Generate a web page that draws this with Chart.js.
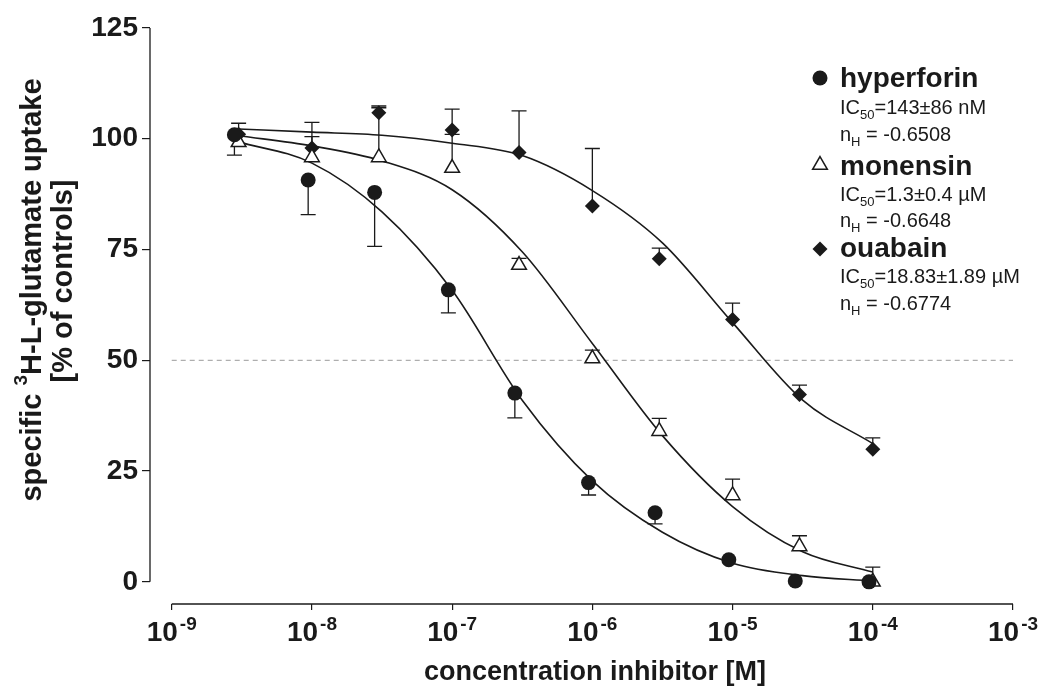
<!DOCTYPE html>
<html>
<head>
<meta charset="utf-8">
<script src="https://cdn.jsdelivr.net/npm/chart.js@4.4.1/dist/chart.umd.min.js"></script>
<style>
  html, body { margin: 0; padding: 0; background: #fff; }
  #wrap { position: relative; width: 1044px; height: 687px; }
</style>
</head>
<body>
<div id="wrap"><canvas id="chart"></canvas></div>
<script>
// concentrations in M
const concentrations = [3e-9, 1e-8, 3e-8, 1e-7, 3e-7, 1e-6, 3e-6, 1e-5, 3e-5, 1e-4];
// hyperforin points sit a hair left of the ticks in the original
const hyperforinConc = [2.8e-9, 9.4e-9, 2.8e-8, 9.4e-8, 2.8e-7, 9.4e-7, 2.8e-6, 9.4e-6, 2.8e-5, 9.4e-5];

const hyperforin = [100.9, 90.7, 87.9, 65.9, 42.6, 22.4, 15.6, 5.0, 0.2, 0.0];
const hyperforinErrUp = [0, 0, 0, 0, 0, 0, 0, 0, 0, 0];
const hyperforinErrDown = [4.6, 7.8, 12.2, 5.2, 5.6, 2.8, 2.5, 0, 0, 0];

const monensin = [99.2, 95.8, 95.8, 93.4, 71.5, 50.4, 34.0, 19.5, 8.0, 0.0];
const monensinErrUp = [0, 4.7, 11.2, 7.6, 1.5, 1.9, 2.9, 3.7, 2.4, 3.3];
const monensinErrDown = [0, 0, 0, 0, 0, 0, 0, 0, 0, 0];

const ouabain = [101.0, 97.9, 105.9, 102.0, 96.9, 84.8, 72.9, 59.2, 42.3, 29.9];
const ouabainErrUp = [2.5, 5.8, 1.5, 4.7, 9.4, 13.0, 2.4, 3.7, 2.1, 2.6];
const ouabainErrDown = [0, 0, 0, 0, 0, 0, 0, 0, 0, 0];

// fitted curves
const curveConc = [3e-9, 1e-8, 3.16e-8, 1e-7, 3.16e-7, 1e-6, 3.16e-6, 1e-5, 3.16e-5, 1e-4];
const hyperforinFit = [99.3, 94.5, 83.5, 65.8, 41.0, 22.8, 11.2, 4.2, 1.4, 0.2];
const monensinFit = [100.7, 98.4, 95.0, 88.5, 74.5, 53.8, 33.0, 17.0, 6.8, 2.2];
const ouabainFit = [102.2, 101.5, 100.8, 99.0, 96.2, 88.3, 76.5, 58.5, 41.0, 31.2];

const xTickValues = [1e-9, 1e-8, 1e-7, 1e-6, 1e-5, 1e-4, 1e-3];
const xTickExponents = ['-9', '-8', '-7', '-6', '-5', '-4', '-3'];
const yTickValues = [0, 25, 50, 75, 100, 125];

const seriesNames = ['hyperforin', 'monensin', 'ouabain'];
const ic50Labels = ['143\u00b186 nM', '1.3\u00b10.4 \u00b5M', '18.83\u00b11.89 \u00b5M'];
const hillLabels = ['-0.6508', '-0.6648', '-0.6774'];

const FONT = '"Liberation Sans", Arial, Helvetica, sans-serif';
const INK = '#1a1a1a';

const toXY = (xs, ys) => xs.map((x, i) => ({ x: x, y: ys[i] }));

const errorSets = [
  { conc: concentrations, values: ouabain, up: ouabainErrUp, down: ouabainErrDown },
  { conc: concentrations, values: monensin, up: monensinErrUp, down: monensinErrDown },
  { conc: hyperforinConc, values: hyperforin, up: hyperforinErrUp, down: hyperforinErrDown },
];

function drawMarker(ctx, style, x, y) {
  ctx.save();
  ctx.fillStyle = INK;
  ctx.strokeStyle = INK;
  ctx.lineWidth = 1.5;
  ctx.beginPath();
  if (style === 'circle') {
    ctx.arc(x, y, 7.5, 0, Math.PI * 2);
    ctx.fill();
  } else if (style === 'triangle') {
    const r = 8.5;
    ctx.moveTo(x, y - r);
    ctx.lineTo(x + r * 0.866, y + r * 0.5);
    ctx.lineTo(x - r * 0.866, y + r * 0.5);
    ctx.closePath();
    ctx.fillStyle = '#fff';
    ctx.fill();
    ctx.stroke();
  } else {
    const r = 7.5;
    ctx.moveTo(x, y - r);
    ctx.lineTo(x + r, y);
    ctx.lineTo(x, y + r);
    ctx.lineTo(x - r, y);
    ctx.closePath();
    ctx.fill();
  }
  ctx.restore();
}

const decor = {
  id: 'decor',
  beforeDatasetsDraw(chart) {
    const ctx = chart.ctx, xs = chart.scales.x, ys = chart.scales.y;
    ctx.save();
    // 50 % reference line
    ctx.strokeStyle = '#9a9a9a';
    ctx.lineWidth = 1;
    ctx.setLineDash([5, 4]);
    ctx.beginPath();
    ctx.moveTo(xs.getPixelForValue(1e-9), ys.getPixelForValue(50));
    ctx.lineTo(xs.getPixelForValue(1e-3), ys.getPixelForValue(50));
    ctx.stroke();
    ctx.setLineDash([]);
    // error bars
    ctx.strokeStyle = INK;
    ctx.lineWidth = 1.3;
    errorSets.forEach(set => {
      set.values.forEach((v, i) => {
        const px = xs.getPixelForValue(set.conc[i]);
        [[set.up[i], 1], [set.down[i], -1]].forEach(([e, dir]) => {
          if (!e) return;
          const y0 = ys.getPixelForValue(v);
          const y1 = ys.getPixelForValue(v + dir * e);
          ctx.beginPath();
          ctx.moveTo(px, y0);
          ctx.lineTo(px, y1);
          ctx.moveTo(px - 7.5, y1);
          ctx.lineTo(px + 7.5, y1);
          ctx.stroke();
        });
      });
    });
    ctx.restore();
  },
  afterDraw(chart) {
    const ctx = chart.ctx, xs = chart.scales.x, ys = chart.scales.y;
    const area = chart.chartArea;
    ctx.save();
    ctx.strokeStyle = INK;
    ctx.lineWidth = 1.3;
    // y axis, 0..125 only
    ctx.beginPath();
    ctx.moveTo(area.left, ys.getPixelForValue(0));
    ctx.lineTo(area.left, ys.getPixelForValue(125));
    ctx.stroke();
    // detached x axis
    ctx.beginPath();
    ctx.moveTo(xs.getPixelForValue(1e-9), area.bottom);
    ctx.lineTo(xs.getPixelForValue(1e-3), area.bottom);
    ctx.stroke();

    ctx.fillStyle = INK;
    ctx.textBaseline = 'alphabetic';
    ctx.textAlign = 'left';
    // x tick labels: 10 with superscript exponent
    xTickValues.forEach((v, i) => {
      const px = xs.getPixelForValue(v);
      ctx.font = 'bold 28px ' + FONT;
      const wBase = ctx.measureText('10').width;
      ctx.font = 'bold 19px ' + FONT;
      const wExp = ctx.measureText(xTickExponents[i]).width;
      const x0 = px - (wBase + 2 + wExp) / 2;
      ctx.font = 'bold 28px ' + FONT;
      ctx.fillText('10', x0, 641);
      ctx.font = 'bold 19px ' + FONT;
      ctx.fillText(xTickExponents[i], x0 + wBase + 2, 630);
    });

    // x title
    ctx.font = 'bold 27px ' + FONT;
    ctx.textAlign = 'center';
    ctx.fillText('concentration inhibitor [M]', 595, 680);

    // y title, two rotated lines
    ctx.textAlign = 'left';
    ctx.save();
    ctx.translate(41, 290);
    ctx.rotate(-Math.PI / 2);
    ctx.font = 'bold 29px ' + FONT;
    const w1 = ctx.measureText('specific ').width;
    const w3 = ctx.measureText('H-L-glutamate uptake').width;
    ctx.font = 'bold 19px ' + FONT;
    const w2 = ctx.measureText('3').width;
    let tx = -(w1 + w2 + w3) / 2;
    ctx.font = 'bold 29px ' + FONT;
    ctx.fillText('specific ', tx, 0);
    tx += w1;
    ctx.font = 'bold 19px ' + FONT;
    ctx.fillText('3', tx, -14);
    tx += w2;
    ctx.font = 'bold 29px ' + FONT;
    ctx.fillText('H-L-glutamate uptake', tx, 0);
    ctx.restore();
    ctx.save();
    ctx.translate(72, 281);
    ctx.rotate(-Math.PI / 2);
    ctx.font = 'bold 29px ' + FONT;
    ctx.textAlign = 'center';
    ctx.fillText('[% of controls]', 0, 0);
    ctx.restore();

    // legend block
    const styles = ['circle', 'triangle', 'rectRot'];
    const markerY = [78, 165, 249];
    const titleY = [87, 175, 257];
    const icY = [114, 201, 283];
    const nhY = [141, 227, 310];
    const textX = 840;
    seriesNames.forEach((name, i) => {
      drawMarker(ctx, styles[i], 820, markerY[i]);
      ctx.fillStyle = INK;
      ctx.textAlign = 'left';
      ctx.font = 'bold 28px ' + FONT;
      ctx.fillText(name, textX, titleY[i]);
      // IC50 line
      let x = textX;
      ctx.font = '20px ' + FONT;
      ctx.fillText('IC', x, icY[i]);
      x += ctx.measureText('IC').width;
      ctx.font = '13px ' + FONT;
      ctx.fillText('50', x, icY[i] + 5);
      x += ctx.measureText('50').width;
      ctx.font = '20px ' + FONT;
      ctx.fillText('=' + ic50Labels[i], x, icY[i]);
      // Hill coefficient line
      x = textX;
      ctx.fillText('n', x, nhY[i]);
      x += ctx.measureText('n').width;
      ctx.font = '13px ' + FONT;
      ctx.fillText('H', x, nhY[i] + 5);
      x += ctx.measureText('H').width;
      ctx.font = '20px ' + FONT;
      ctx.fillText(' = ' + hillLabels[i], x, nhY[i]);
    });
    ctx.restore();
  }
};

const curveStyle = {
  type: 'line',
  borderColor: INK,
  borderWidth: 1.6,
  pointRadius: 0,
  fill: false,
  cubicInterpolationMode: 'monotone',
  order: 10
};
const pointStyle = {
  type: 'scatter',
  showLine: false,
  pointBorderColor: INK,
  pointBorderWidth: 1.5
};

new Chart(document.getElementById('chart'), {
  data: {
    datasets: [
      { ...curveStyle, label: 'hyperforin fit', data: toXY(curveConc, hyperforinFit) },
      { ...curveStyle, label: 'monensin fit', data: toXY(curveConc, monensinFit) },
      { ...curveStyle, label: 'ouabain fit', data: toXY(curveConc, ouabainFit) },
      { ...pointStyle, label: 'ouabain', data: toXY(concentrations, ouabain),
        pointStyle: 'rectRot', pointRadius: 7.5, pointBackgroundColor: INK, pointBorderWidth: 0, order: 4 },
      { ...pointStyle, label: 'monensin', data: toXY(concentrations, monensin),
        pointStyle: 'triangle', pointRadius: 8.5, pointBackgroundColor: '#fff', order: 3 },
      { ...pointStyle, label: 'hyperforin', data: toXY(hyperforinConc, hyperforin),
        pointStyle: 'circle', pointRadius: 7.5, pointBackgroundColor: INK, pointBorderWidth: 0, order: 1 }
    ]
  },
  options: {
    responsive: true,
    maintainAspectRatio: false,
    animation: false,
    devicePixelRatio: 1,
    layout: { padding: { top: 28, right: 31, left: 0, bottom: 0 } },
    plugins: { legend: { display: false }, tooltip: { enabled: false } },
    scales: {
      x: {
        type: 'logarithmic',
        min: Math.pow(10, -9.142),
        max: 1e-3,
        afterBuildTicks: s => { s.ticks = xTickValues.map(v => ({ value: v })); },
        afterFit: s => { s.height = 83; },
        ticks: { display: false },
        grid: { display: true, drawOnChartArea: false, drawTicks: true, tickLength: 6, color: INK, lineWidth: 1.2 },
        border: { display: false }
      },
      y: {
        type: 'linear',
        min: -5,
        max: 125,
        afterBuildTicks: s => { s.ticks = yTickValues.map(v => ({ value: v })); },
        afterFit: s => { s.width = 150; },
        ticks: { color: INK, padding: 4, font: { family: FONT, size: 28, weight: 'bold' } },
        grid: { display: true, drawOnChartArea: false, drawTicks: true, tickLength: 8, color: INK, lineWidth: 1.2 },
        border: { display: false }
      }
    }
  },
  plugins: [decor]
});
</script>
</body>
</html>
